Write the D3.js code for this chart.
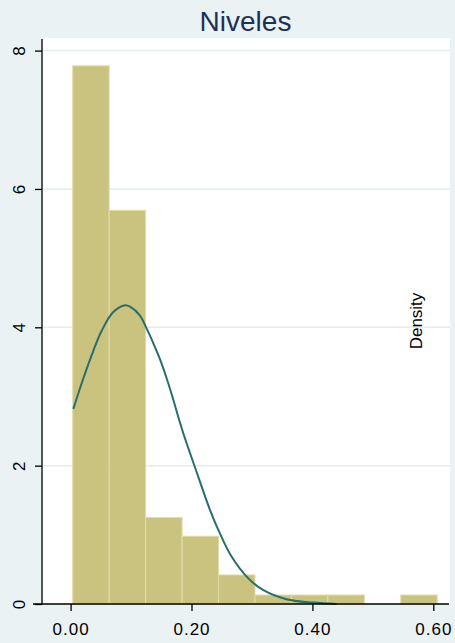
<!DOCTYPE html>
<html><head><meta charset="utf-8">
<script src="https://cdn.jsdelivr.net/npm/d3@7"></script>
<style>html,body{margin:0;padding:0;background:#EAF2F3;}svg{display:block;}</style>
</head><body>
<svg id="c" width="455" height="643"></svg>
<script>
// Histogram bins (start, width) and density heights
const binStart = 0.0035;
const binWidth = 0.0603;
const densities = [7.78, 5.69, 1.25, 0.98, 0.42, 0.13, 0.13, 0.13, 0, 0.13];
// Fitted normal curve points
const curveX = [0.0045, 0.021, 0.0376, 0.0514, 0.0706, 0.090, 0.0983, 0.1148, 0.1259, 0.1368, 0.1478, 0.159, 0.170, 0.181, 0.189, 0.206, 0.231, 0.247, 0.266, 0.294, 0.319, 0.357, 0.401, 0.440];
const curveY = [2.82, 3.26, 3.66, 3.95, 4.22, 4.32, 4.30, 4.17, 3.98, 3.77, 3.54, 3.26, 2.95, 2.62, 2.40, 1.97, 1.35, 1.02, 0.69, 0.37, 0.20, 0.07, 0.02, 0.0];
const xTicks = [0, 0.2, 0.4, 0.6];
const xTickLabels = ["0.00", "0.20", "0.40", "0.60"];
const yTicks = [0, 2, 4, 6, 8];
const title = "Niveles";
const yTitle = "Density";

const svg = d3.select("#c");
const W = 455, H = 643;
const plot = {left: 43, right: 450, top: 38, bottom: 604};
const x = d3.scaleLinear().domain([0, 0.6]).range([70.6, 433.3]);
const y = d3.scaleLinear().domain([0, 8]).range([604, 50.6]);

svg.append("rect").attr("width", W).attr("height", H).attr("fill", "#EAF2F3");
svg.append("rect").attr("x", plot.left).attr("y", plot.top)
  .attr("width", plot.right - plot.left).attr("height", plot.bottom - plot.top).attr("fill", "#fff");

// gridlines
svg.append("g").selectAll("line").data(yTicks.filter(d => d > 0)).join("line")
  .attr("x1", plot.left).attr("x2", plot.right)
  .attr("y1", d => y(d)).attr("y2", d => y(d))
  .attr("stroke", "#E3ECF1").attr("stroke-width", 1.5);

// bars
const bins = densities.map((d, i) => ({x0: binStart + i * binWidth, x1: binStart + (i + 1) * binWidth, v: d}));
svg.append("g").selectAll("rect").data(bins.filter(b => b.v > 0)).join("rect")
  .attr("x", b => x(b.x0)).attr("width", b => x(b.x1) - x(b.x0))
  .attr("y", b => y(b.v)).attr("height", b => y(0) - y(b.v))
  .attr("fill", "#CAC27F").attr("stroke", "#E2DCA8").attr("stroke-width", 1);

// curve
const pts = curveX.map((v, i) => [v, curveY[i]]);
svg.append("path").datum(pts)
  .attr("d", d3.line().x(d => x(d[0])).y(d => y(d[1])).curve(d3.curveCatmullRom.alpha(0.5)))
  .attr("fill", "none").attr("stroke", "#2A6E6B").attr("stroke-width", 2);

// y axis
const yAxis = svg.append("g").attr("transform", `translate(${plot.left - 1},0)`)
  .call(d3.axisLeft(y).tickValues(yTicks).tickSize(7).tickFormat(d3.format("d")));
yAxis.select(".domain").attr("d", `M0,${plot.top + 1}V${plot.bottom}`).attr("stroke", "#000").attr("stroke-width", 1.3);
yAxis.selectAll(".tick line").attr("stroke", "#000").attr("stroke-width", 1.3);
yAxis.selectAll(".tick text")
  .attr("x", 0).attr("y", 0).attr("dy", null)
  .attr("transform", "translate(-17,0) rotate(-90)")
  .attr("text-anchor", "middle")
  .attr("font-family", "Liberation Sans, Arial, sans-serif").attr("font-size", 17).attr("fill", "#000");

// x axis
const xAxis = svg.append("g").attr("transform", `translate(0,${plot.bottom})`)
  .call(d3.axisBottom(x).tickValues(xTicks).tickSize(7).tickFormat((d, i) => xTickLabels[i]));
xAxis.select(".domain").attr("d", `M33,0H449`).attr("stroke", "#000").attr("stroke-width", 1.3);
xAxis.selectAll(".tick line").attr("stroke", "#000").attr("stroke-width", 1.3);
xAxis.selectAll(".tick text").attr("y", 31).attr("dy", null)
  .attr("font-family", "Liberation Sans, Arial, sans-serif").attr("font-size", 17).attr("fill", "#000")
  .attr("letter-spacing", 1);

// title
svg.append("text").attr("x", 245.5).attr("y", 30.5).attr("text-anchor", "middle")
  .attr("font-family", "Liberation Sans, Arial, sans-serif").attr("font-size", 28)
  .attr("fill", "#1E2F5C").text(title);

// y title
svg.append("text").attr("transform", "translate(422,321) rotate(-90)").attr("text-anchor", "middle")
  .attr("font-family", "Liberation Sans, Arial, sans-serif").attr("font-size", 17)
  .attr("fill", "#000").text(yTitle);
</script>
</body></html>
